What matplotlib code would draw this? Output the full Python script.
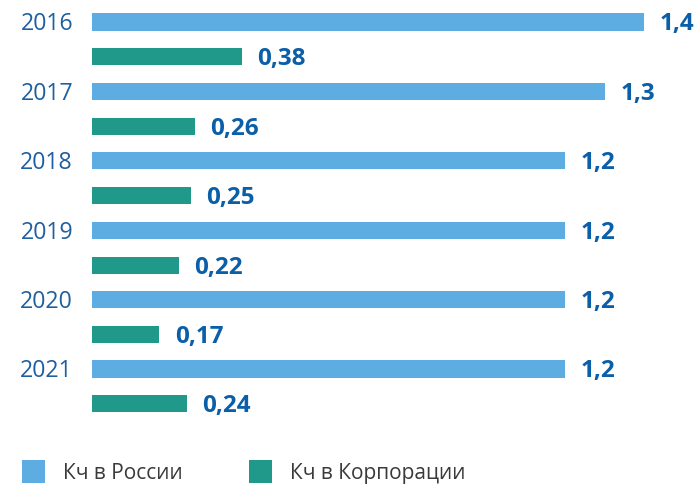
import matplotlib
matplotlib.use("Agg")
import matplotlib.pyplot as plt
from matplotlib.patches import Rectangle
import numpy as np

years = ["2016", "2017", "2018", "2019", "2020", "2021"]
kch_russia = [1.4, 1.3, 1.2, 1.2, 1.2, 1.2]
kch_corp = [0.38, 0.26, 0.25, 0.22, 0.17, 0.24]
series_names = ["Кч в России", "Кч в Корпорации"]

c_russia = "#5dade2"
c_corp = "#20998a"
c_label = "#0b5ea8"
c_year = "#1f5f9f"
c_legend = "#3a3a3a"

plt.rcParams["font.family"] = ["Open Sans", "DejaVu Sans"]

fig = plt.figure(figsize=(7, 4.86), dpi=100)
ax = fig.add_axes([92 / 700, 56 / 486, 608 / 700, 430 / 486])

pos = np.arange(len(years))
h = 0.245
ax.barh(pos, kch_russia, height=h, color=c_russia)
ax.barh(pos + 0.504, kch_corp, height=h, color=c_corp)

ax.set_xlim(0, 608 / 394.3)
ax.set_ylim((430 - 22) / 69.4, -22 / 69.4)
ax.axis("off")

def fmt(v):
    return ("%g" % v).replace(".", ",")

# digits sit on the baseline, half their height below the bar centre
dy = 0.12
for i, (yr, a, b) in enumerate(zip(years, kch_russia, kch_corp)):
    ax.text(-0.048, i + dy, yr, ha="right", va="baseline", fontsize=16.7,
            color=c_year)
    ax.text(a + 0.04, i + dy, fmt(a), ha="left", va="baseline",
            fontsize=17.5, fontweight="bold", color=c_label)
    ax.text(b + 0.04, i + 0.504 + dy, fmt(b), ha="left", va="baseline",
            fontsize=17.5, fontweight="bold", color=c_label)

# legend drawn by hand
for x0, col, name in [(22, c_russia, series_names[0]),
                      (249, c_corp, series_names[1])]:
    fig.add_artist(Rectangle((x0 / 700, (486 - 483) / 486), 23 / 700,
                             23 / 486, transform=fig.transFigure,
                             color=col, lw=0))
    fig.text((x0 + 41) / 700, (486 - 479) / 486, name, ha="left",
             va="baseline", fontsize=15, color=c_legend)

fig.savefig("out.png", dpi=100)
